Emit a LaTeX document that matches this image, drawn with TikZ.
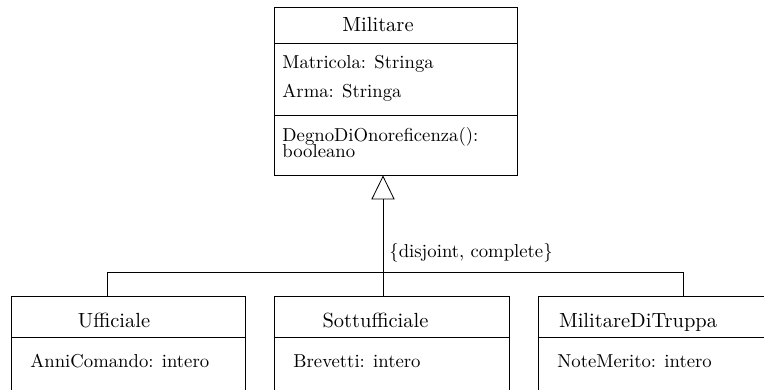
\documentclass[tikz,border=0pt]{standalone}
\usetikzlibrary{arrows.meta,fit}
\begin{document}
\begin{tikzpicture}[
  x=0.5348pt, y=-0.5348pt,
  line width=0.45pt,
  classbox/.style={draw, inner sep=0pt, fit=#1},
  titletext/.style={anchor=base, inner sep=0pt, font=\fontsize{10.95}{13}\selectfont},
  membertext/.style={anchor=base west, inner sep=0pt, font=\fontsize{10}{12}\selectfont},
  gen/.style={-{Triangle[open, length=12.8pt, width=12.4pt]}}
]
\useasboundingbox (0,0) rectangle (764,389);
\clip (0,0) rectangle (764,389);

% superclass
\coordinate (milNW) at (274,7);
\coordinate (milSE) at (517,175);
\node[classbox={(milNW)(milSE)}] (mil) {};
\draw (274,43) -- (517,43);
\draw (274,115.5) -- (517,115.5);
\node[titletext] (milT) at (378,32) {Militare};
\node[membertext] (milA1) at (282,69) {Matricola: Stringa};
\node[membertext] (milA2) at (282,97.5) {Arma: Stringa};
\node[membertext] (milM1) at (282,141) {DegnoDiOnoreficenza():};
\node[membertext] (milM2) at (282,157) {booleano};

% subclasses
\coordinate (uffNW) at (11,296);
\coordinate (uffSE) at (245,400);
\node[classbox={(uffNW)(uffSE)}] (uff) {};
\draw (11,337.5) -- (245,337.5);
\node[titletext] (uffT) at (114,327) {Ufficiale};
\node[membertext] (uffA) at (30,367) {AnniComando: intero};

\coordinate (sotNW) at (274,296);
\coordinate (sotSE) at (509,400);
\node[classbox={(sotNW)(sotSE)}] (sot) {};
\draw (274,337.5) -- (509,337.5);
\node[titletext] (sotT) at (375.5,327) {Sottufficiale};
\node[membertext] (sotA) at (293,367) {Brevetti: intero};

\coordinate (mdtNW) at (538,296);
\coordinate (mdtSE) at (790,400);
\node[classbox={(mdtNW)(mdtSE)}] (mdt) {};
\draw (538,337.5) -- (790,337.5);
\node[titletext] (mdtT) at (638,327) {MilitareDiTruppa};
\node[membertext] (mdtA) at (557,367) {NoteMerito: intero};

% generalization hierarchy
\coordinate (jU) at (107,272);
\coordinate (jS) at (383,272);
\coordinate (jM) at (683,272);
\draw (jU) -- (jM);
\draw (jU) -- (jU |- uff.north);
\draw (jM) -- (jM |- mdt.north);
\draw (jS |- sot.north) -- (jS);
\draw[gen] (jS) -- (jS |- mil.south);
\node[membertext] (constr) at (389,257) {\{disjoint, complete\}};
\end{tikzpicture}
\end{document}
